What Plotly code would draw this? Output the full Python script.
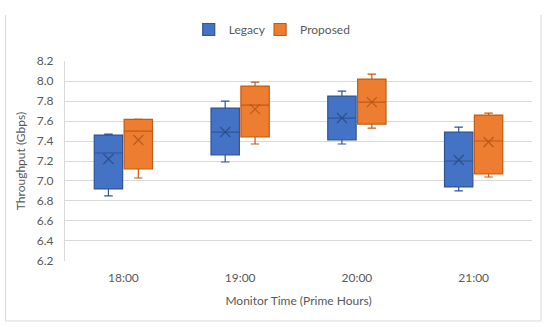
import plotly.graph_objects as go

categories = ["18:00", "19:00", "20:00", "21:00"]

legacy_low = [6.85, 7.19, 7.37, 6.90]
legacy_q1 = [6.92, 7.26, 7.41, 6.94]
legacy_median = [7.28, 7.49, 7.63, 7.20]
legacy_q3 = [7.46, 7.73, 7.85, 7.49]
legacy_high = [7.47, 7.80, 7.90, 7.54]
legacy_mean = [7.22, 7.49, 7.63, 7.21]

proposed_low = [7.03, 7.37, 7.53, 7.04]
proposed_q1 = [7.12, 7.44, 7.57, 7.07]
proposed_median = [7.50, 7.76, 7.79, 7.40]
proposed_q3 = [7.617, 7.95, 8.02, 7.66]
proposed_high = [7.62, 7.99, 8.07, 7.68]
proposed_mean = [7.41, 7.72, 7.79, 7.39]

y_ticks = [6.2, 6.4, 6.6, 6.8, 7.0, 7.2, 7.4, 7.6, 7.8, 8.0, 8.2]

FONT = "Lato, 'Open Sans', sans-serif"
TXT = "#595959"
GRID = "#D9D9D9"

idx = list(range(len(categories)))
OFF = 0.128
BW = 0.243

series = [
    ("Legacy", "legend", -OFF, legacy_low, legacy_q1, legacy_median, legacy_q3, legacy_high, legacy_mean,
     "#4472C4", "#2F5597", "rgba(40,70,130,0.75)"),
    ("Proposed", "legend2", OFF, proposed_low, proposed_q1, proposed_median, proposed_q3, proposed_high, proposed_mean,
     "#ED7D31", "#C55A11", "rgba(170,80,20,0.75)"),
]

fig = go.Figure()
for name, lg, off, lo, q1, med, q3, hi, mean, fill, line, mcol in series:
    xs = [i + off for i in idx]
    fig.add_trace(go.Box(
        name=name, legend=lg, x=xs, lowerfence=lo, q1=q1, median=med, q3=q3, upperfence=hi,
        width=BW, whiskerwidth=0.3, fillcolor=fill,
        line=dict(color=line, width=1.2), boxpoints=False, showlegend=True,
        hoverinfo="skip",
    ))
for name, lg, off, lo, q1, med, q3, hi, mean, fill, line, mcol in series:
    xs = [i + off for i in idx]
    fig.add_trace(go.Scatter(
        x=xs, y=mean, mode="markers", showlegend=False, hoverinfo="skip",
        marker=dict(symbol="x-thin-open", size=10, color=mcol,
                    line=dict(color=mcol, width=1.2)),
    ))

# chart border (left, right, bottom)
for x0, y0, x1, y1 in [(5, 15, 5, 321), (541.5, 15, 541.5, 321), (5, 321, 541.5, 321)]:
    fig.add_shape(type="line", xref="paper", yref="paper",
                  x0=(x0 - 64.5) / 468, x1=(x1 - 64.5) / 468,
                  y0=(261 - y0) / 200, y1=(261 - y1) / 200,
                  line=dict(color="#D9D9D9", width=1), layer="below")

legend_common = dict(orientation="h", xanchor="left", y=1.1575, yanchor="middle",
                     font=dict(family=FONT, size=12, color=TXT), bgcolor="rgba(0,0,0,0)")

fig.update_layout(
    width=550, height=327,
    margin=dict(l=64.5, r=17.5, t=61, b=66, autoexpand=False),
    paper_bgcolor="white", plot_bgcolor="white",
    font=dict(family=FONT, size=12, color=TXT),
    showlegend=True,
    legend=dict(x=(188.5 - 64.5) / 468, **legend_common),
    legend2=dict(x=(260 - 64.5) / 468, **legend_common),
    xaxis=dict(range=[-0.5, 3.5], tickvals=idx, ticktext=categories, showgrid=False,
               zeroline=False, showline=False, ticks="", ticklabelstandoff=8,
               title=dict(text="Monitor Time (Prime Hours)", standoff=12,
                          font=dict(family=FONT, size=12, color=TXT)),
               tickfont=dict(family=FONT, size=12, color=TXT)),
    yaxis=dict(range=[6.199, 8.201], tickvals=y_ticks, tickformat=".1f", showgrid=True,
               gridcolor=GRID, gridwidth=1, zeroline=False, showline=True, linecolor=GRID,
               linewidth=1, ticks="", ticklabelstandoff=8,
               title=dict(text="Throughput (Gbps)", standoff=8,
                          font=dict(family=FONT, size=12, color=TXT)),
               tickfont=dict(family=FONT, size=12, color=TXT)),
)

fig.write_html("out.html", post_script="document.body.style.margin='0';",
               config={"displayModeBar": False})
